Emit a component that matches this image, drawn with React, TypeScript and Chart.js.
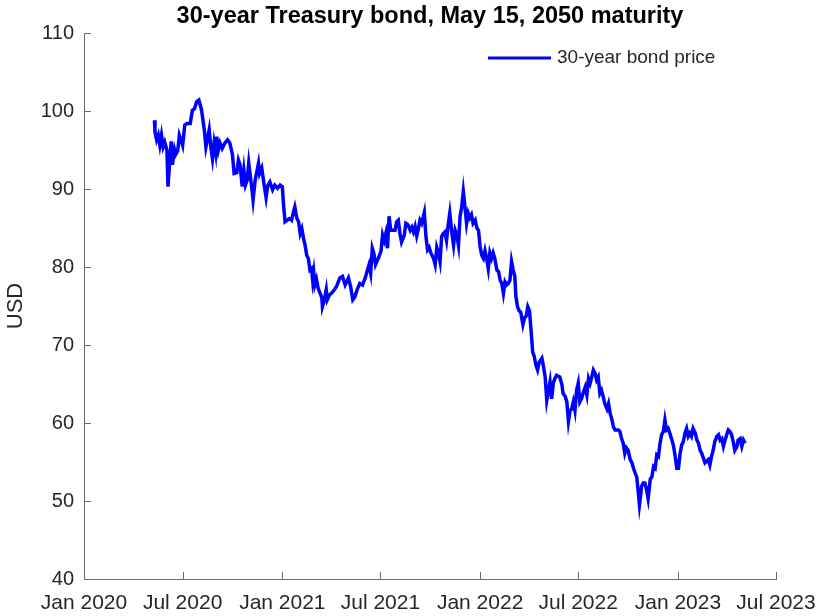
import React, { useEffect, useRef } from 'react';
import { Chart, registerables } from 'chart.js';

Chart.register(...registerables);

// Trading observations: days since 1 Jan 2020, and the bond price in USD
const daysSinceJan2020 = [
  130, 131, 134, 137, 140, 143, 146, 149, 153, 155, 157, 161, 163, 167, 169, 173, 176, 179, 182, 186,
  190, 196, 200, 204, 208, 212, 217, 222, 225, 228, 231, 234, 237, 240, 243, 245, 248, 251, 255, 260,
  265, 269, 274, 277, 282, 285, 288, 292, 295, 298, 301, 304, 310, 312, 316, 320, 322, 324, 328, 332,
  336, 339, 343, 348, 352, 357, 362, 366, 368, 371, 375, 379, 383, 386, 389, 393, 396, 399, 402, 405,
  408, 411, 414, 417, 420, 422, 424, 426, 429, 432, 436, 439, 440, 443, 447, 449, 453, 459, 466, 472,
  477, 482, 488, 492, 496, 500, 504, 509, 514, 519, 523, 526, 529, 532, 535, 538, 543, 548, 551, 554,
  557, 560, 563, 566, 569, 574, 577, 580, 583, 586, 591, 594, 598, 602, 605, 608, 611, 614, 617, 620,
  623, 628, 631, 634, 637, 640, 645, 648, 651, 654, 657, 660, 663, 666, 669, 672, 675, 679, 682, 685,
  688, 691, 694, 697, 700, 703, 706, 709, 712, 715, 718, 722, 725, 728, 731, 734, 737, 740, 743, 746,
  749, 752, 755, 758, 762, 765, 768, 771, 774, 777, 780, 783, 786, 789, 792, 795, 797, 800, 803, 806,
  810, 813, 816, 819, 822, 825, 828, 831, 834, 837, 840, 845, 848, 851, 854, 857, 860, 863, 866, 869,
  872, 878, 882, 884, 888, 891, 894, 897, 900, 903, 906, 909, 912, 915, 918, 921, 925, 928, 931, 934,
  937, 940, 943, 946, 949, 952, 955, 958, 961, 965, 968, 971, 974, 977, 980, 983, 986, 989, 992, 995,
  998, 1001, 1004, 1008, 1011, 1014, 1017, 1020, 1023, 1025, 1027, 1029, 1032, 1035, 1038, 1041, 1045, 1048, 1051, 1054,
  1057, 1060, 1063, 1066, 1069, 1072, 1075, 1078, 1081, 1085, 1088, 1091, 1094, 1097, 1100, 1103, 1106, 1109, 1112, 1115,
  1118, 1121, 1124, 1128, 1131, 1134, 1137, 1140, 1143, 1146, 1149, 1152, 1155, 1158, 1161, 1164, 1168, 1171, 1174, 1177,
  1180, 1183, 1186, 1189, 1192, 1195, 1198, 1201, 1205, 1207, 1211, 1214, 1217, 1220,
];

const bondPrice = [
  98.8, 97.3, 96.3, 96.9, 95.6, 96.9, 95.4, 96.0, 95.0, 90.3, 92.4, 96.1, 93.1, 95.0, 94.4, 94.9, 96.9, 96.3, 95.6, 98.2,
  98.4, 98.4, 100.1, 100.3, 101.2, 101.4, 100.1, 97.6, 95.4, 96.5, 97.6, 95.4, 93.9, 95.9, 94.6, 96.7, 95.0, 95.9, 95.2, 95.9,
  96.3, 95.9, 94.4, 92.0, 92.1, 93.7, 93.1, 90.3, 92.4, 90.5, 91.1, 93.3, 89.9, 88.6, 91.2, 92.6, 93.3, 92.0, 92.7, 90.7,
  88.9, 90.4, 90.9, 89.9, 90.5, 90.1, 90.5, 90.3, 88.2, 85.8, 86.0, 86.2, 86.0, 86.9, 87.7, 86.2, 85.8, 84.3, 84.9, 83.7,
  82.8, 81.5, 81.1, 79.6, 79.8, 78.3, 79.3, 77.7, 78.4, 77.3, 76.6, 76.0, 74.9, 75.6, 77.1, 75.8, 76.4, 76.8, 77.5, 78.6,
  78.8, 77.7, 78.6, 77.5, 75.8, 76.2, 77.1, 77.9, 77.7, 78.6, 79.6, 80.3, 79.2, 82.4, 81.7, 80.3, 81.1, 82.0, 84.1, 83.4,
  84.3, 82.4, 86.5, 84.7, 84.7, 84.7, 85.8, 86.0, 84.3, 83.2, 84.1, 85.6, 85.4, 84.7, 85.1, 84.5, 85.2, 84.0, 84.9, 86.0,
  85.6, 87.0, 83.9, 82.2, 82.5, 81.8, 81.1, 80.3, 82.5, 81.8, 80.7, 83.9, 84.3, 84.5, 83.4, 85.4, 86.9, 84.3, 82.8, 84.7,
  84.1, 82.8, 86.5, 87.7, 89.7, 87.7, 85.6, 86.9, 86.3, 86.7, 85.6, 86.0, 85.0, 84.7, 82.6, 81.5, 81.1, 82.1, 81.1, 79.8,
  81.8, 81.1, 81.8, 81.1, 79.6, 79.4, 78.3, 77.9, 76.6, 78.1, 77.7, 77.9, 78.3, 80.7, 79.6, 78.8, 76.2, 74.9, 74.4, 74.2,
  72.6, 73.5, 73.7, 74.9, 74.4, 71.9, 69.1, 68.5, 67.4, 66.8, 67.8, 68.3, 67.2, 65.9, 62.9, 64.1, 65.3, 63.1, 65.1, 65.7,
  66.1, 65.9, 64.9, 63.8, 63.4, 62.7, 60.2, 61.6, 61.8, 62.7, 61.6, 64.2, 65.1, 62.7, 63.1, 63.8, 64.6, 63.6, 65.7, 65.1,
  65.9, 66.8, 66.4, 65.5, 65.9, 63.8, 64.2, 63.4, 62.5, 61.8, 62.5, 61.2, 60.5, 59.5, 59.1, 59.1, 59.1, 58.9, 58.0, 57.4,
  56.1, 56.8, 56.5, 55.3, 54.9, 54.2, 53.6, 53.1, 51.0, 49.5, 50.6, 51.9, 52.3, 52.3, 51.5, 50.3, 52.8, 53.1, 54.4, 54.2,
  55.9, 55.7, 57.4, 58.5, 58.9, 60.4, 59.1, 59.3, 58.7, 57.8, 57.0, 55.7, 54.2, 54.2, 56.1, 57.2, 57.6, 58.7, 59.3, 58.3,
  58.7, 58.3, 59.3, 58.7, 57.8, 57.4, 56.5, 56.1, 55.5, 54.9, 55.1, 55.3, 54.6, 55.7, 56.5, 57.6, 58.3, 58.5, 57.8, 58.0,
  57.0, 57.8, 58.5, 59.1, 58.9, 58.5, 57.6, 56.5, 57.0, 57.8, 58.0, 57.0, 57.8, 57.4,
];

const xTickDays = [0, 182, 366, 547, 731, 912, 1096, 1277];
const xTickLabels = ['Jan 2020', 'Jul 2020', 'Jan 2021', 'Jul 2021', 'Jan 2022', 'Jul 2022', 'Jan 2023', 'Jul 2023'];
const yTickValues = [40, 50, 60, 70, 80, 90, 100, 110];

const seriesLabel = '30-year bond price';
const chartTitle = '30-year Treasury bond, May 15, 2050 maturity';
const yAxisTitle = 'USD';

const FONT = "'Liberation Sans', Arial, Helvetica, sans-serif";
const AXIS_COLOR = '#6a6a6a';
const TEXT_COLOR = '#262626';
const LINE_COLOR = '#0000ff';

export default function App() {
  const canvasRef = useRef<HTMLCanvasElement>(null);

  useEffect(() => {
    const canvas = canvasRef.current;
    if (!canvas) return;

    const inwardTicks = {
      id: 'inwardTicks',
      afterDraw(chart: any) {
        const { ctx, chartArea, scales } = chart;
        ctx.save();
        ctx.strokeStyle = AXIS_COLOR;
        ctx.lineWidth = 1;
        ctx.beginPath();
        scales.x.ticks.forEach((t: any) => {
          const px = Math.round(scales.x.getPixelForValue(t.value)) + 0.5;
          ctx.moveTo(px, chartArea.bottom);
          ctx.lineTo(px, chartArea.bottom - 7);
        });
        scales.y.ticks.forEach((t: any) => {
          const py = Math.round(scales.y.getPixelForValue(t.value)) + 0.5;
          ctx.moveTo(chartArea.left, py);
          ctx.lineTo(chartArea.left + 7, py);
        });
        ctx.stroke();
        ctx.restore();
      },
    };

    const lineLegend = {
      id: 'lineLegend',
      afterDraw(chart: any) {
        const { ctx, chartArea } = chart;
        const ds = chart.data.datasets[0];
        const lineEnd = chartArea.right - 225;
        const lineStart = lineEnd - 63;
        const y = chartArea.top + 25;
        ctx.save();
        ctx.strokeStyle = ds.borderColor;
        ctx.lineWidth = 3;
        ctx.beginPath();
        ctx.moveTo(lineStart, y);
        ctx.lineTo(lineEnd, y);
        ctx.stroke();
        ctx.fillStyle = TEXT_COLOR;
        ctx.font = `19px ${FONT}`;
        ctx.textBaseline = 'middle';
        ctx.textAlign = 'left';
        ctx.fillText(ds.label, lineEnd + 6, y);
        ctx.restore();
      },
    };

    const chart = new Chart(canvas, {
      type: 'line',
      data: {
        datasets: [
          {
            label: seriesLabel,
            data: daysSinceJan2020.map((d, i) => ({ x: d, y: bondPrice[i] })),
            borderColor: LINE_COLOR,
            backgroundColor: LINE_COLOR,
            borderWidth: 3.5,
            pointRadius: 0,
            tension: 0,
            fill: false,
          },
        ],
      },
      options: {
        animation: false,
        responsive: true,
        maintainAspectRatio: false,
        layout: { padding: { left: 0, right: 41, top: 0, bottom: 0 } },
        plugins: {
          legend: { display: false },
          tooltip: { enabled: false },
          title: {
            display: true,
            text: chartTitle,
            fullSize: false,
            color: '#000000',
            font: { family: FONT, size: 23.5, weight: 'bold', lineHeight: 1.2 },
            padding: { top: 2, bottom: 2.8 },
          },
        },
        scales: {
          x: {
            type: 'linear',
            min: xTickDays[0],
            max: xTickDays[xTickDays.length - 1],
            grid: { display: false, drawTicks: false },
            border: { display: true, color: AXIS_COLOR, width: 1 },
            afterBuildTicks: (scale: any) => {
              scale.ticks = xTickDays.map((v) => ({ value: v }));
            },
            afterFit: (scale: any) => {
              scale.height = 37;
              scale.paddingLeft = 0;
              scale.paddingRight = 0;
            },
            ticks: {
              autoSkip: false,
              maxRotation: 0,
              minRotation: 0,
              padding: 12,
              color: TEXT_COLOR,
              font: { family: FONT, size: 21 },
              callback: (_v: any, i: number) => xTickLabels[i],
            },
          },
          y: {
            type: 'linear',
            min: yTickValues[0],
            max: yTickValues[yTickValues.length - 1],
            grid: { display: false, drawTicks: false },
            border: { display: true, color: AXIS_COLOR, width: 1 },
            afterBuildTicks: (scale: any) => {
              scale.ticks = yTickValues.map((v) => ({ value: v }));
            },
            afterFit: (scale: any) => {
              scale.width = 84;
              scale.paddingTop = 0;
              scale.paddingBottom = 0;
            },
            ticks: {
              padding: 10,
              color: TEXT_COLOR,
              font: { family: FONT, size: 20 },
            },
            title: {
              display: true,
              text: yAxisTitle,
              color: TEXT_COLOR,
              font: { family: FONT, size: 22 },
              padding: { top: 3, bottom: 0 },
            },
          },
        },
      },
      plugins: [inwardTicks, lineLegend],
    });

    return () => {
      chart.destroy();
    };
  }, []);

  return (
    <div style={{ position: 'absolute', left: 0, top: 0, width: 817, height: 616, background: '#ffffff' }}>
      <canvas ref={canvasRef} style={{ display: 'block', width: '100%', height: '100%' }} />
    </div>
  );
}
